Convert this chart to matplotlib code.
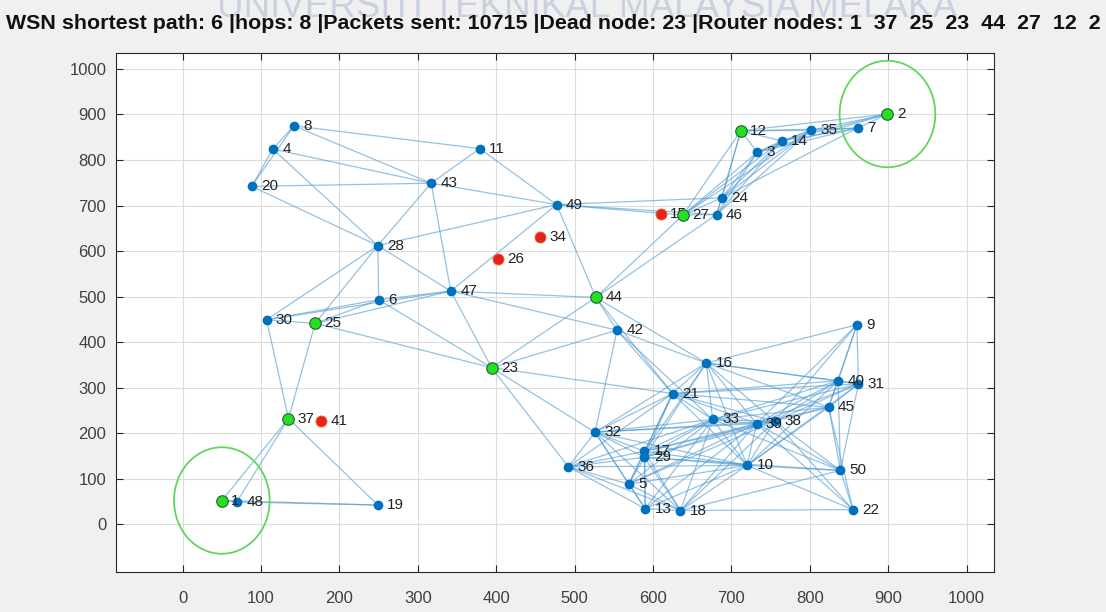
import numpy as np
import matplotlib.pyplot as plt
from matplotlib.patches import Ellipse

# node positions (node id = index + 1)
node_x = [50, 899, 733, 115, 569, 250, 861, 142, 860, 720,
          379, 712, 590, 764, 610, 668, 589, 635, 249, 88,
          625, 855, 394, 688, 169, 402, 638, 249, 589, 107,
          862, 526, 676, 456, 801, 492, 135, 755, 732, 836,
          177, 554, 317, 527, 824, 681, 342, 69, 477, 839]
node_y = [52, 901, 817, 824, 88, 493, 870, 875, 438, 129,
          825, 864, 34, 842, 682, 354, 160, 30, 42, 742,
          287, 32, 344, 717, 441, 582, 679, 612, 147, 449,
          308, 202, 230, 631, 865, 126, 232, 226, 221, 315,
          226, 426, 749, 498, 257, 680, 512, 49, 702, 118]

router_path = [1, 37, 25, 23, 44, 27, 12, 2]
dead_nodes = [15, 26, 34, 41]
packets_sent = 10715
dead_node_id = 23

# radio links between live nodes
links = """
1-19 1-37 1-48 2-3 2-7 2-12 2-14 2-35 3-7 3-12 3-14 3-24 3-27 3-35 3-46 4-8 4-20 4-28 4-43
5-10 5-13 5-17 5-18 5-21 5-29 5-32 5-33 5-36 5-38 5-39 6-23 6-25 6-28 6-30 6-47 7-12 7-14
7-24 7-35 8-11 8-20 8-43 9-16 9-31 9-38 9-39 9-40 9-45 10-13 10-16 10-17 10-18 10-21 10-22
10-29 10-31 10-32 10-33 10-36 10-38 10-39 10-40 10-45 10-50 11-43 11-49 12-14 12-24
12-27 12-35 12-46 13-17 13-18 13-29 13-32 13-33 13-36 13-39 14-24 14-27 14-35 14-46 16-17
16-21 16-29 16-31 16-32 16-33 16-38 16-39 16-40 16-42 16-44 16-45 17-18 17-21 17-29 17-32
17-33 17-36 17-38 17-39 18-22 18-29 18-32 18-33 18-36 18-38 18-39 18-50 19-37 19-48 20-28
20-43 21-23 21-29 21-31 21-32 21-33 21-36 21-38 21-39 21-40 21-42 21-44 21-45 22-38 22-39
22-45 22-50 23-25 23-32 23-36 23-42 23-44 23-47 24-27 24-35 24-46 24-49 25-28 25-30 25-37
25-47 27-35 27-44 27-46 27-49 28-30 28-43 28-47 28-49 29-32 29-33 29-36 29-38 29-39 29-50
30-37 30-47 31-33 31-38 31-39 31-40 31-45 31-50 32-33 32-36 32-38 32-39 32-42 33-36 33-38
33-39 33-40 33-42 33-45 33-50 35-46 37-48 38-39 38-40 38-45 38-50 39-40 39-45 39-50 40-45
40-50 42-44 42-47 43-47 43-49 44-46 44-47 44-49 45-50 46-49 47-49
"""
edges = [tuple(int(v) for v in p.split('-')) for p in links.split()]

fig = plt.figure(figsize=(11.06, 6.12), dpi=100, facecolor='#f0f0f0')
ax = fig.add_axes([0.1049, 0.0654, 0.7939, 0.848])

for a, b in edges:
    ax.plot([node_x[a-1], node_x[b-1]], [node_y[a-1], node_y[b-1]],
            color=(0.3, 0.6, 0.82), alpha=0.6, lw=0.9, zorder=2)

# ordinary nodes
for i in range(50):
    n = i + 1
    if n in router_path or n in dead_nodes:
        continue
    ax.plot(node_x[i], node_y[i], 'o', color='#0072bd', ms=6, mec='#0072bd', zorder=3)

for i in range(50):
    ax.text(node_x[i] + 12, node_y[i], str(i + 1), fontsize=11, va='center', ha='left',
            color='#222222', family='Liberation Sans', zorder=4)

# dead nodes and the route
for n in dead_nodes:
    ax.plot(node_x[n-1], node_y[n-1], 'o', color='#e3241b', ms=8, mec='#f07030', mew=0.6, zorder=5)
for n in router_path:
    ax.plot(node_x[n-1], node_y[n-1], 'o', color='#22e022', ms=8.3, mec='#2a5a2a', mew=0.8, zorder=5)

# source / sink rings
for n in (router_path[0], router_path[-1]):
    ax.add_patch(Ellipse((node_x[n-1], node_y[n-1]), 122, 234, fill=False,
                         ec='#5fd65f', lw=1.3, zorder=5))

ax.set_xlim(-85, 1035)
ax.set_ylim(-105, 1035)
ax.set_xticks(np.arange(0, 1001, 100))
ax.set_yticks(np.arange(0, 1001, 100))
ax.grid(True, color='#dcdcdc', lw=0.8)
ax.set_axisbelow(True)
ax.tick_params(direction='in', length=5, top=True, right=True, labelsize=12,
               labelcolor='#404040', color='#262626')
ax.tick_params(axis='x', pad=14)
ax.tick_params(axis='y', pad=7)
for lab in ax.get_xticklabels() + ax.get_yticklabels():
    lab.set_family('Liberation Sans')
for s in ax.spines.values():
    s.set_color('#262626')

fig.text(0.531, 0.988, 'UNIVERSITI TEKNIKAL MALAYSIA MELAKA', fontsize=26.5,
         color='#c9d0e0', ha='center', va='center', family='Liberation Sans', zorder=0)
title = (f'WSN shortest path: 6 |hops: {len(router_path)} |Packets sent: {packets_sent} '
         f'|Dead node: {dead_node_id} |Router nodes: ' + '  '.join(str(n) for n in router_path))
fig.text(0.5, 0.962, title, fontsize=15.4, fontweight='bold', ha='center', va='center',
         family='Liberation Sans', color='#111111')

fig.savefig('out.png', dpi=100, facecolor=fig.get_facecolor())
